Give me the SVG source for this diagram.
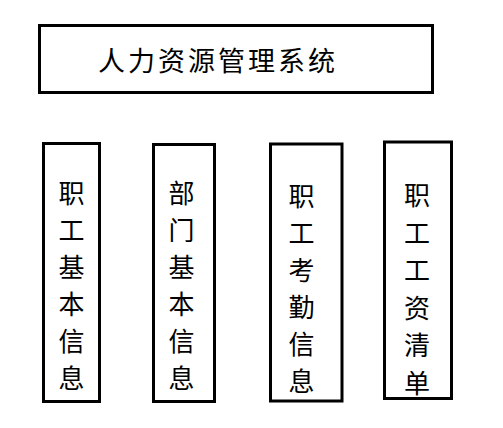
<svg xmlns="http://www.w3.org/2000/svg" width="503" height="428" viewBox="0 0 503 428">
<style>
.box{fill:#fff;stroke:#000;stroke-width:3}
.t{font-family:"Noto Sans CJK SC","Noto Sans CJK JP",sans-serif;font-size:26px;fill:#000;text-anchor:middle}
.title{font-family:"Noto Sans CJK SC","Noto Sans CJK JP",sans-serif;font-size:27px;fill:#000;letter-spacing:3px}
</style>
<rect width="503" height="428" fill="#fff"/>
<g id="root">
<rect class="box" x="39.5" y="25.5" width="393" height="67"/>
<text class="title" x="98" y="71">人力资源管理系统</text>
</g>
<g id="n1">
<rect class="box" x="43.5" y="143.5" width="56" height="258"/>
<text class="t"><tspan x="71.5" y="203">职</tspan><tspan x="71.5" y="240">工</tspan><tspan x="71.5" y="277">基</tspan><tspan x="71.5" y="314">本</tspan><tspan x="71.5" y="351">信</tspan><tspan x="71.5" y="388">息</tspan></text>
</g>
<g id="n2">
<rect class="box" x="153.5" y="144.5" width="61" height="257"/>
<text class="t"><tspan x="181.5" y="203">部</tspan><tspan x="181.5" y="240">门</tspan><tspan x="181.5" y="277">基</tspan><tspan x="181.5" y="314">本</tspan><tspan x="181.5" y="351">信</tspan><tspan x="181.5" y="388">息</tspan></text>
</g>
<g id="n3">
<rect class="box" x="270.5" y="144" width="71.5" height="257"/>
<text class="t"><tspan x="301.5" y="206">职</tspan><tspan x="301.5" y="243">工</tspan><tspan x="301.5" y="280">考</tspan><tspan x="301.5" y="317">勤</tspan><tspan x="301.5" y="354">信</tspan><tspan x="301.5" y="391">息</tspan></text>
</g>
<g id="n4">
<rect class="box" x="384.5" y="142" width="67" height="256.5"/>
<text class="t"><tspan x="417" y="205">职</tspan><tspan x="417" y="242.5">工</tspan><tspan x="417" y="280">工</tspan><tspan x="417" y="317.5">资</tspan><tspan x="417" y="355">清</tspan><tspan x="417" y="392.5">单</tspan></text>
</g>
<g id="connectors"></g>
</svg>
